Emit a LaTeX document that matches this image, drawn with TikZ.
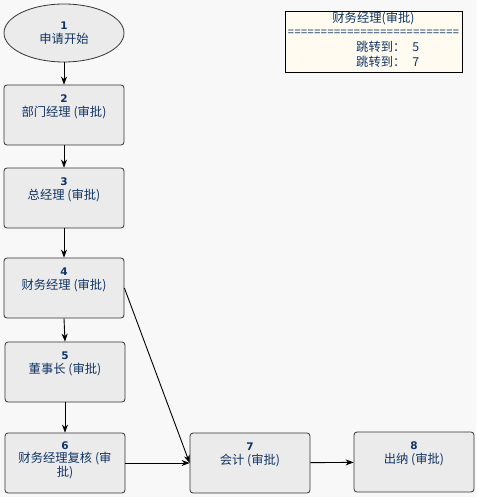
\documentclass[tikz,border=0pt]{standalone}
\usepackage{fontspec}
\setmainfont{Noto Sans CJK SC}
\newfontfamily\numfont{DejaVu Sans}
\newfontfamily\eqfont{Liberation Mono}
\usetikzlibrary{positioning,shapes.geometric,arrows.meta}
\definecolor{wfnavy}{RGB}{16,52,100}
\definecolor{wfgray}{RGB}{235,235,235}
\definecolor{wfbg}{RGB}{248,248,248}
\definecolor{wfcream}{RGB}{255,251,240}
\newcommand{\stepno}[1]{{\numfont\bfseries\fontsize{10.5}{12}\selectfont #1}}

\begin{document}
\begin{tikzpicture}[
  x=1pt, y=-1pt,
  font=\fontsize{12.3}{13.5}\selectfont,
  stepbox/.style = {rectangle, rounded corners=3pt, draw=black!80, fill=wfgray,
                    text=wfnavy, align=center, minimum width=120pt, minimum height=60pt,
                    text depth=19pt, inner sep=0pt, line width=0.8pt},
  startbox/.style = {ellipse, draw=black!80, fill=wfgray, text=wfnavy, align=center,
                    minimum width=120pt, minimum height=58pt, inner sep=0pt, line width=0.8pt},
  fl/.style = {-{Stealth[length=8pt,width=6pt,inset=2.5pt]}, black, line width=0.9pt},
  infobox/.style = {rectangle, draw=black, fill=wfcream, text=wfnavy,
                    minimum width=177pt, minimum height=61pt, inner sep=0pt, line width=0.9pt}
]
% --- Fondo -------------------------------------------------------------------
\fill[wfbg] (0,0) rectangle (476,497);
\useasboundingbox (0,0) rectangle (476,497);

% --- Nodos del flujo ----------------------------------------------------------
\node[startbox] (s1) at (64,33)  {\stepno{1}\\申请开始};
\node[stepbox]  (b2) at (64,115) {\stepno{2}\\部门经理 (审批)};
\node[stepbox]  (b3) at (64,198) {\stepno{3}\\总经理 (审批)};
\node[stepbox]  (b4) at (64,288) {\stepno{4}\\财务经理 (审批)};
\node[stepbox]  (b5) at (65,372) {\stepno{5}\\董事长 (审批)};
\node[stepbox, text depth=8pt] (b6) at (65,463) {\stepno{6}\\财务经理复核 (审\\批)};
\node[stepbox]  (b7) at (250,463) {\stepno{7}\\会计 (审批)};
\node[stepbox]  (b8) at (414,462) {\stepno{8}\\出纳 (审批)};

% --- Cuadro de saltos -----------------------------------------------------------
\node[infobox] (info) at (373.5,42) {};
\node[text=wfnavy, anchor=center, inner sep=0pt] (infot) at (373.5,18) {财务经理(审批)};
\node[text=wfnavy, anchor=center, inner sep=0pt] (infoeq) at (373.5,33)
     {\eqfont\fontsize{11}{11}\selectfont ==========================};
\node[text=wfnavy, anchor=west, inner sep=0pt] (j5) at (356,47) {跳转到：\hspace{7pt}5};
\node[text=wfnavy, anchor=west, inner sep=0pt] (j7) at (356,62) {跳转到：\hspace{7pt}7};

% --- Flujos ---------------------------------------------------------------------
\draw[fl] (s1) -- (b2);
\draw[fl] (b2) -- (b3);
\draw[fl] (b3) -- (b4);
\draw[fl] (b4.south) -- (b5.north);
\draw[fl] (b5) -- (b6);
\draw[fl] (b6) -- (b7);
\draw[fl] (b4.east) -- (b7.west);
\draw[fl] (b7) -- (b8);

\end{tikzpicture}
\end{document}
